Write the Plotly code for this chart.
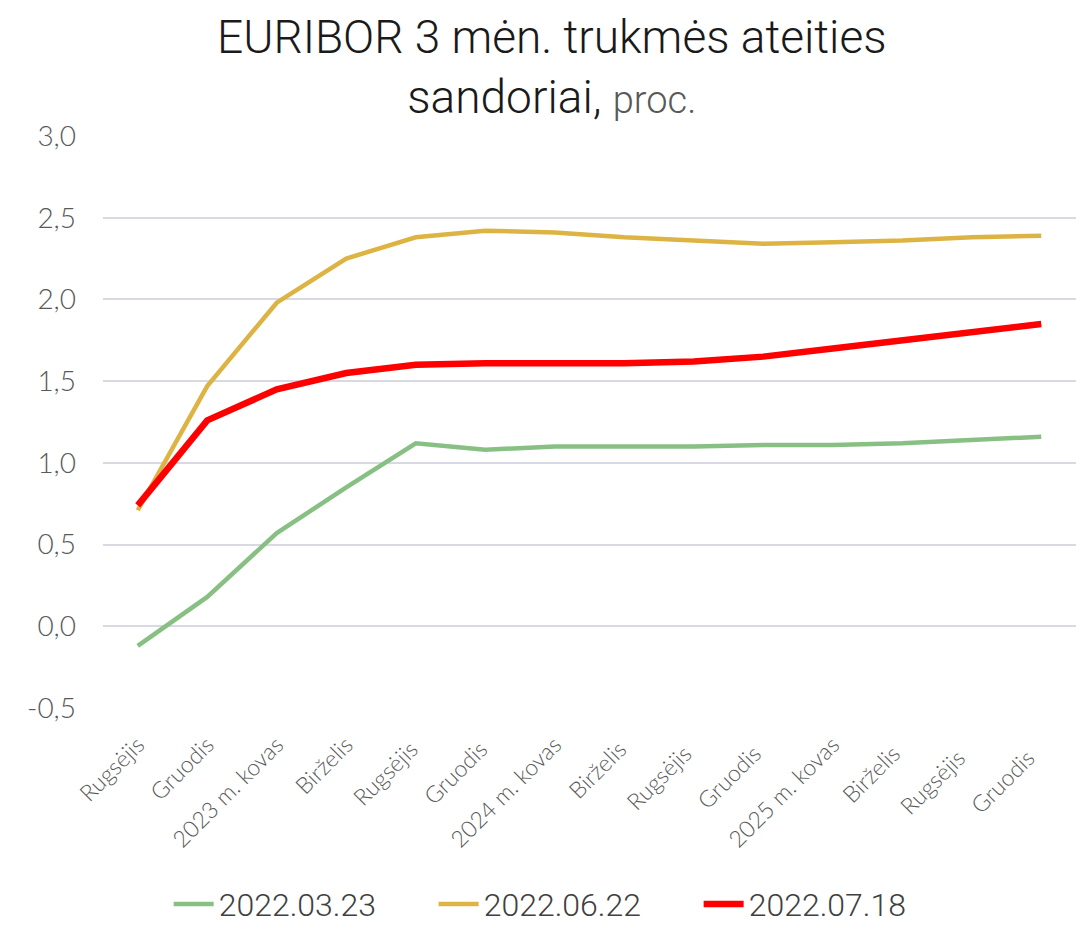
import plotly.graph_objects as go

categories = ["Rugsėjis", "Gruodis", "2023 m. kovas", "Birželis", "Rugsėjis ", "Gruodis ",
              "2024 m. kovas", "Birželis ", "Rugsėjis  ", "Gruodis  ", "2025 m. kovas",
              "Birželis  ", "Rugsėjis   ", "Gruodis   "]
s_0323 = [-0.12, 0.18, 0.57, 0.85, 1.12, 1.08, 1.10, 1.10, 1.10, 1.11, 1.11, 1.12, 1.14, 1.16]
s_0622 = [0.71, 1.47, 1.98, 2.25, 2.38, 2.42, 2.41, 2.38, 2.36, 2.34, 2.35, 2.36, 2.38, 2.39]
s_0718 = [0.74, 1.26, 1.45, 1.55, 1.60, 1.61, 1.61, 1.61, 1.62, 1.65, 1.70, 1.75, 1.80, 1.85]
y_ticks = [-0.5, 0.0, 0.5, 1.0, 1.5, 2.0, 2.5, 3.0]
y_ticktext = ["-0,5", "0,0", "0,5", "1,0", "1,5", "2,0", "2,5", "3,0"]
series = [("2022.03.23", s_0323, "#88C084", 4.5),
          ("2022.06.22", s_0622, "#DDB443", 4.5),
          ("2022.07.18", s_0718, "#FF0000", 6.5)]

FONT = "Roboto"
fig = go.Figure()
for name, vals, color, w in series:
    fig.add_trace(go.Scatter(x=categories, y=vals, name=name, mode="lines",
                             line=dict(color=color, width=w)))

fig.add_annotation(
    text="EURIBOR 3 mėn. trukmės ateities<br>sandoriai, <span style='color:#595959;font-size:38px'>proc.</span>",
    xref="paper", yref="paper", x=0.461, y=1.222, xanchor="center", yanchor="top",
    showarrow=False, align="center", borderpad=0,
    font=dict(family=FONT, size=46, color="#1a1a1a", weight=300))

fig.update_layout(
    width=1084, height=926,
    paper_bgcolor="white", plot_bgcolor="white",
    separators=",.",
    margin=dict(l=95, r=16, t=128, b=226, autoexpand=False),
    xaxis=dict(type="category", tickangle=-45, showgrid=False, zeroline=False,
               showline=False, ticks="", automargin=False, range=[-0.5, 13.5],
               ticklabelstandoff=18,
               tickfont=dict(family="Lato", size=23, color="#595959", weight=300)),
    yaxis=dict(range=[-0.5, 3.0], tickvals=y_ticks, ticktext=y_ticktext, showgrid=True,
               gridcolor="#D9D9E3", gridwidth=2, zeroline=False, showline=False,
               ticks="", automargin=False, ticklabelstandoff=26,
               tickfont=dict(family="Lato", size=28, color="#595959", weight=300)),
    legend=dict(orientation="h", x=0.476, xanchor="center", y=-0.343, yanchor="middle",
                font=dict(family=FONT, size=32, color="#404040", weight=300),
                entrywidth=210, entrywidthmode="pixels", itemwidth=40),
    showlegend=True,
)
fig.write_html("out.html")
